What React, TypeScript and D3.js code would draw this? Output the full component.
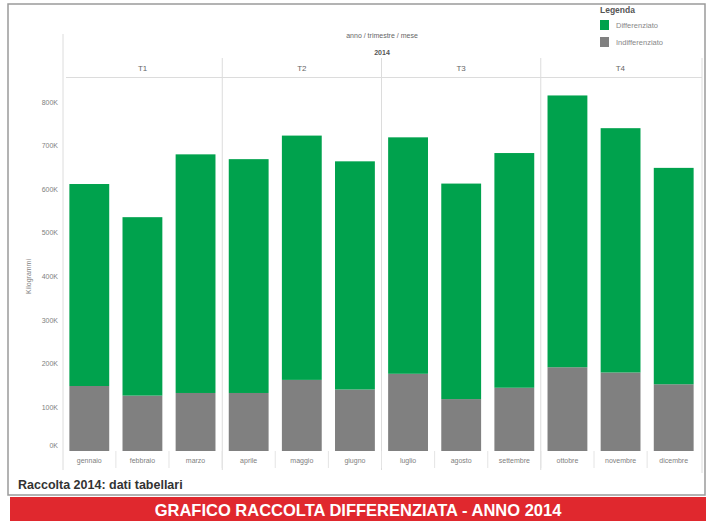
import * as d3 from "d3";

const months = [
  "gennaio", "febbraio", "marzo", "aprile", "maggio", "giugno",
  "luglio", "agosto", "settembre", "ottobre", "novembre", "dicembre",
];
const quarters = ["T1", "T2", "T3", "T4"];
const indifferenziato = [
  149000, 127000, 133000, 133000, 163000, 141000,
  177000, 119000, 145000, 192000, 180000, 153000,
];
const differenziato = [
  463000, 409000, 547000, 536000, 560000, 523000,
  542000, 494000, 538000, 623000, 560000, 496000,
];
const yTicks = [0, 100000, 200000, 300000, 400000, 500000, 600000, 700000, 800000];
const seriesNames = ["Differenziato", "Indifferenziato"];

const W = 713;
const H = 521;
const GREEN = "#00a24d";
const GRAY = "#808080";
const FONT = "'Liberation Sans', Arial, sans-serif";

export default function App() {
  const left = 63;
  const right = 700;
  const bottom = 451;

  const x = d3.scaleBand().domain(months).range([left, right]).paddingInner(0.25).paddingOuter(0.12);
  const xq = d3.scaleBand().domain(quarters).range([left, right]);
  const y = d3.scaleLinear().domain([0, 800000]).range([bottom, 102]);

  const rows = months.map((m, i) => ({
    month: m,
    Indifferenziato: indifferenziato[i],
    Differenziato: differenziato[i],
  }));
  const stack = d3.stack<any>().keys(["Indifferenziato", "Differenziato"]);
  const layers = stack(rows);
  const color = d3.scaleOrdinal<string>().domain(seriesNames).range([GREEN, GRAY]);

  const fmt = (v: number) => `${v / 1000}K`;
  const gap = (x.step() - x.bandwidth()) / 2;

  return (
    <div style={{ position: "absolute", left: 0, top: 0 }}>
      <svg width={W} height={H} style={{ display: "block", fontFamily: FONT }}>
        <rect x={0} y={0} width={W} height={H} fill="#fff" />
        {/* outer frame */}
        <rect x={8} y={4} width={697} height={491} fill="none" stroke="#9a9a9a" strokeWidth={1.5} />

        {/* header */}
        <text x={382} y={38} textAnchor="middle" fontSize={7} fill="#666">
          anno / trimestre / mese
        </text>
        <text x={382} y={55} textAnchor="middle" fontSize={7} fontWeight="bold" fill="#555">
          2014
        </text>
        {quarters.map((q) => (
          <text
            key={q}
            x={(xq(q) || 0) + xq.bandwidth() / 2}
            y={71}
            textAnchor="middle"
            fontSize={8}
            fill="#666"
          >
            {q}
          </text>
        ))}
        <line x1={left + 3} x2={right + 2} y1={77.5} y2={77.5} stroke="#dcdcdc" />

        {/* panel separators */}
        {quarters.slice(1).map((q) => (
          <line
            key={q}
            x1={xq(q) || 0}
            x2={xq(q) || 0}
            y1={58}
            y2={470}
            stroke="#dcdcdc"
          />
        ))}
        <line x1={left} x2={left} y1={34} y2={470} stroke="#dcdcdc" />
        <line x1={right + 2} x2={right + 2} y1={58} y2={473} stroke="#dcdcdc" />

        {/* y axis */}
        {yTicks.map((t) => (
          <text key={t} x={58} y={t === 0 ? y(t) - 3 : y(t) + 2.5} textAnchor="end" fontSize={7} fill="#808080">
            {fmt(t)}
          </text>
        ))}
        <text
          transform={`translate(31,${(bottom + 102) / 2}) rotate(-90)`}
          textAnchor="middle"
          fontSize={7}
          fill="#808080"
        >
          Kilogrammi
        </text>

        {/* bars */}
        {layers.map((layer) => (
          <g key={layer.key} fill={layer.key === "Differenziato" ? GREEN : GRAY}>
            {layer.map((d: any) => (
              <rect
                key={d.data.month}
                x={x(d.data.month) || 0}
                y={y(d[1])}
                width={x.bandwidth()}
                height={y(d[0]) - y(d[1])}
              />
            ))}
          </g>
        ))}

        {/* x labels and tick separators */}
        {months.map((m, i) => (
          <g key={m}>
            {i > 0 && (
              <line
                x1={(x(m) || 0) - gap}
                x2={(x(m) || 0) - gap}
                y1={bottom}
                y2={468}
                stroke="#e4e4e4"
              />
            )}
            <text
              x={(x(m) || 0) + x.bandwidth() / 2}
              y={463}
              textAnchor="middle"
              fontSize={7}
              fill="#808080"
            >
              {m}
            </text>
          </g>
        ))}

        {/* legend */}
        <text x={600} y={13} fontSize={8.5} fontWeight="bold" fill="#555">
          Legenda
        </text>
        {seriesNames.map((s, i) => (
          <g key={s} transform={`translate(600,${20 + i * 17})`}>
            <rect width={9} height={10} fill={color(s)} />
            <text x={16} y={8} fontSize={7.5} fill="#888">
              {s}
            </text>
          </g>
        ))}

        {/* footer */}
        <text x={18} y={489} fontSize={12.5} fontWeight="bold" fill="#333">
          Raccolta 2014: dati tabellari
        </text>
        <rect x={10} y={497} width={696} height={24} fill="#e0282e" />
        <text
          x={358}
          y={516}
          textAnchor="middle"
          fontSize={16.5}
          fontWeight="bold"
          fill="#fff"
          fontFamily="'Liberation Sans Narrow', 'Arial Narrow', sans-serif"
        >
          GRAFICO RACCOLTA DIFFERENZIATA - ANNO 2014
        </text>
      </svg>
    </div>
  );
}
